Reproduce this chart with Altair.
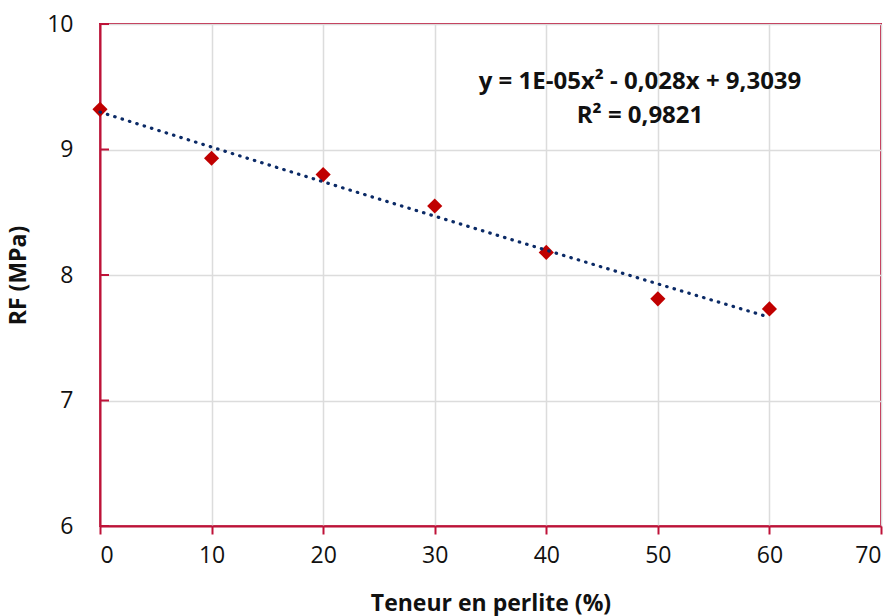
import altair as alt
import pandas as pd

# Data
teneur = [0, 10, 20, 30, 40, 50, 60]
rf = [9.32, 8.93, 8.80, 8.55, 8.18, 7.81, 7.73]
x_ticks = [0, 10, 20, 30, 40, 50, 60, 70]
y_ticks = [6, 7, 8, 9, 10]
equation_line1 = "y = 1E-05x² - 0,028x + 9,3039"
equation_line2 = "R² = 0,9821"

RED = "#BE1238"
FONT = "Open Sans"

df = pd.DataFrame({"x": teneur, "y": rf})
ticks_df = pd.DataFrame({"t": y_ticks})

xscale = alt.Scale(domain=[0, 70], nice=False, zero=False)
yscale = alt.Scale(domain=[6, 10], nice=False, zero=False)

base = alt.Chart(df)

points = base.mark_point(shape="diamond", filled=True, size=230, color="#C00000", opacity=1).encode(
    x=alt.X("x:Q", scale=xscale,
            axis=alt.Axis(values=x_ticks, format="d", title="Teneur en perlite (%)", grid=True,
                          tickSize=8, tickColor=RED, tickWidth=2, labelPadding=10,
                          titlePadding=25, domainColor=RED, domainWidth=2)),
    y=alt.Y("y:Q", scale=yscale,
            axis=alt.Axis(values=y_ticks, format="d", title="RF (MPa)", grid=True, ticks=False,
                          labelPadding=27, titlePadding=16, domainColor=RED, domainWidth=2)),
)

trend = base.transform_regression("x", "y", method="poly", order=2, extent=[0, 60]).mark_line(
    color="#0B2A66", strokeWidth=3.2, strokeDash=[0.5, 7.2], strokeCap="round"
).encode(x=alt.X("x:Q", scale=xscale), y=alt.Y("y:Q", scale=yscale))

inner_ticks = alt.Chart(ticks_df).mark_rule(color=RED, strokeWidth=2).encode(
    y=alt.Y("t:Q", scale=yscale), x=alt.value(0), x2=alt.value(9)
)

text_style = dict(font=FONT, fontSize=24, fontWeight="bold", color="#111111",
                  align="center", baseline="middle")
eq1 = alt.Chart(pd.DataFrame({"txt": [equation_line1]})).mark_text(**text_style).encode(
    text="txt:N", x=alt.value(540), y=alt.value(58))
eq2 = alt.Chart(pd.DataFrame({"txt": [equation_line2]})).mark_text(**text_style).encode(
    text="txt:N", x=alt.value(540), y=alt.value(92))

chart = alt.layer(points, inner_ticks, trend, eq1, eq2).properties(
    width=781, height=502,
    autosize=alt.AutoSizeParams(type="none"),
    padding={"left": 100, "top": 24, "right": 14, "bottom": 90},
    background="white",
).configure_view(stroke=RED, strokeWidth=2).configure_axis(
    gridColor="#DCDCDC", gridWidth=1.5,
    labelFont=FONT, labelFontSize=23, labelColor="#111111",
    titleFont=FONT, titleFontSize=23, titleFontWeight="bold", titleColor="#111111",
)

chart.save("out.html", embed_options={"renderer": "svg", "actions": False})
